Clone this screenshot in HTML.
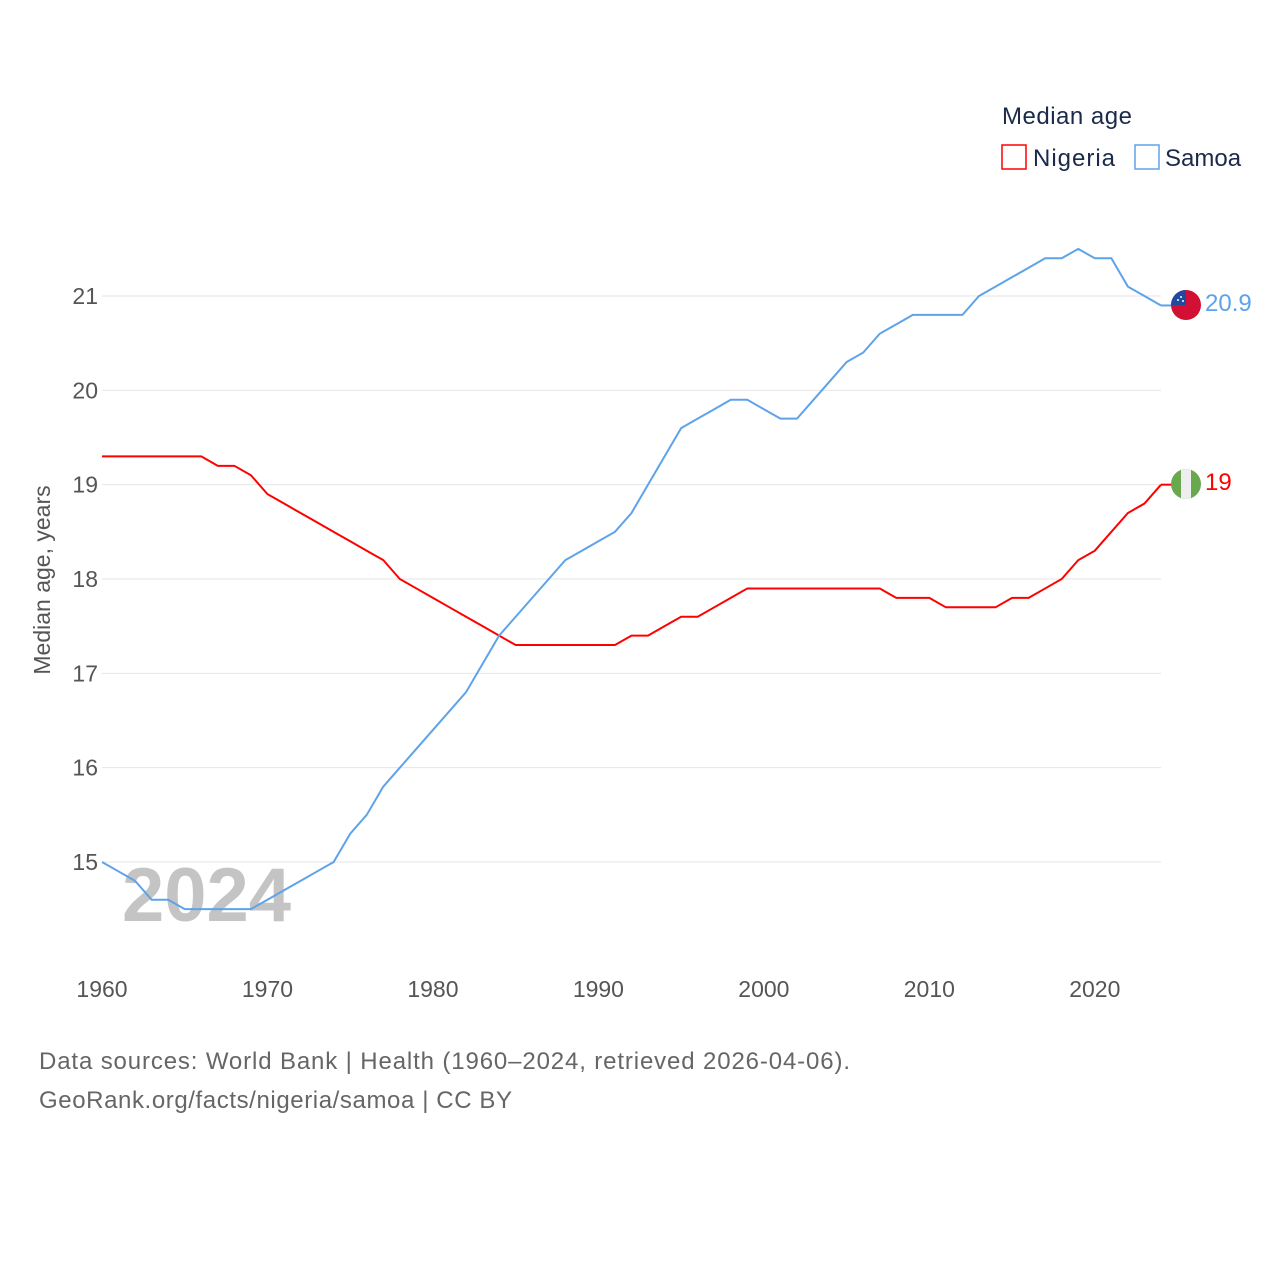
<!DOCTYPE html>
<html><head><meta charset="utf-8"><style>
body{margin:0;background:#fff;font-family:"Liberation Sans",sans-serif;}
</style></head><body>
<svg id="chart" width="1280" height="1280" xmlns="http://www.w3.org/2000/svg" font-family="Liberation Sans, sans-serif">
<rect width="1280" height="1280" fill="#fff"/>
<g id="grid"></g>
<text x="122" y="921" font-size="76" font-weight="bold" fill="#c4c4c4">2024</text>
<g id="lines"></g>
<text transform="translate(50,580) rotate(-90)" text-anchor="middle" font-size="23" fill="#555">Median age, years</text>
<g>
<text x="1002" y="124" font-size="24" fill="#1b2a4a" textLength="130">Median age</text>
<rect x="1002" y="145" width="24" height="24" fill="none" stroke="#ff0000" stroke-width="1.5"/>
<text x="1033" y="166" font-size="24" fill="#1b2a4a" textLength="82">Nigeria</text>
<rect x="1135" y="145" width="24" height="24" fill="none" stroke="#5ea3ea" stroke-width="1.5"/>
<text x="1165" y="166" font-size="24" fill="#1b2a4a">Samoa</text>
</g>
<g>
<circle cx="1186" cy="305" r="15" fill="#d21034"/>
<path d="M1171,305 A15,15 0 0 1 1186,290 L1186,305 Z" fill="#1f4aa0"/>
<circle cx="1181" cy="297" r="1" fill="#fff"/><circle cx="1178" cy="300" r="1" fill="#fff"/><circle cx="1183" cy="301" r="1" fill="#fff"/>
</g>
<g>
<clipPath id="nc"><circle cx="1186" cy="484" r="15"/></clipPath>
<g clip-path="url(#nc)"><rect x="1171" y="469" width="30" height="30" fill="#6aa84f"/><rect x="1181" y="469" width="10" height="30" fill="#eee"/></g>
</g>
<text x="1205" y="311" font-size="24" fill="#5ea3ea">20.9</text>
<text x="1205" y="490" font-size="24" fill="#ff0000">19</text>
<text x="39" y="1069" font-size="24" fill="#666" textLength="811">Data sources: World Bank | Health (1960–2024, retrieved 2026-04-06).</text>
<text x="39" y="1108" font-size="24" fill="#666" textLength="473">GeoRank.org/facts/nigeria/samoa | CC BY</text>
</svg>
<script>
const years = [];
for (let y = 1960; y <= 2024; y++) years.push(y);
const nigeria = [19.3,19.3,19.3,19.3,19.3,19.3,19.3,19.2,19.2,19.1,18.9,18.8,18.7,18.6,18.5,18.4,18.3,18.2,18.0,17.9,17.8,17.7,17.6,17.5,17.4,17.3,17.3,17.3,17.3,17.3,17.3,17.3,17.4,17.4,17.5,17.6,17.6,17.7,17.8,17.9,17.9,17.9,17.9,17.9,17.9,17.9,17.9,17.9,17.8,17.8,17.8,17.7,17.7,17.7,17.7,17.8,17.8,17.9,18.0,18.2,18.3,18.5,18.7,18.8,19.0];
const samoa = [15.0,14.9,14.8,14.6,14.6,14.5,14.5,14.5,14.5,14.5,14.6,14.7,14.8,14.9,15.0,15.3,15.5,15.8,16.0,16.2,16.4,16.6,16.8,17.1,17.4,17.6,17.8,18.0,18.2,18.3,18.4,18.5,18.7,19.0,19.3,19.6,19.7,19.8,19.9,19.9,19.8,19.7,19.7,19.9,20.1,20.3,20.4,20.6,20.7,20.8,20.8,20.8,20.8,21.0,21.1,21.2,21.3,21.4,21.4,21.5,21.4,21.4,21.1,21.0,20.9];
const yTicks = [15,16,17,18,19,20,21];
const xTicks = [1960,1970,1980,1990,2000,2010,2020];
const xs = yr => 102 + (yr - 1960) * (1161 - 102) / 64;
const ys = v => 862 - (v - 15) * 94.33;
const NS = "http://www.w3.org/2000/svg";
const grid = document.getElementById('grid');
yTicks.forEach(t => {
  const l = document.createElementNS(NS, 'line');
  l.setAttribute('x1', 102); l.setAttribute('x2', 1161);
  l.setAttribute('y1', ys(t)); l.setAttribute('y2', ys(t));
  l.setAttribute('stroke', '#e6e6e6'); l.setAttribute('stroke-width', 1);
  
  
  grid.appendChild(l);
  const tx = document.createElementNS(NS, 'text');
  tx.setAttribute('x', 98); tx.setAttribute('y', ys(t) + 8);
  tx.setAttribute('text-anchor', 'end'); tx.setAttribute('font-size', 23); tx.setAttribute('fill', '#555');
  tx.textContent = t;
  
  
  grid.appendChild(tx);
});
xTicks.forEach(t => {
  const tx = document.createElementNS(NS, 'text');
  tx.setAttribute('x', xs(t)); tx.setAttribute('y', 997);
  tx.setAttribute('text-anchor', 'middle'); tx.setAttribute('font-size', 23); tx.setAttribute('fill', '#555');
  tx.textContent = t;
  
  
  grid.appendChild(tx);
});
const lines = document.getElementById('lines');
[[nigeria, '#ff0000', 'nigeria-line'], [samoa, '#5ea3ea', 'samoa-line']].forEach(([data, col, name]) => {
  const p = document.createElementNS(NS, 'polyline');
  p.setAttribute('points', data.map((v, i) => xs(years[i]) + ',' + ys(v)).join(' '));
  p.setAttribute('fill', 'none'); p.setAttribute('stroke', col); p.setAttribute('stroke-width', 2);
  
  
  lines.appendChild(p);
  const last = data[data.length - 1];
  const s = document.createElementNS(NS, 'line');
  s.setAttribute('x1', xs(years[years.length - 1])); s.setAttribute('x2', 1172);
  s.setAttribute('y1', ys(last)); s.setAttribute('y2', ys(last));
  s.setAttribute('stroke', col); s.setAttribute('stroke-width', 2);
  
  
  lines.appendChild(s);
});
</script>
</body></html>
